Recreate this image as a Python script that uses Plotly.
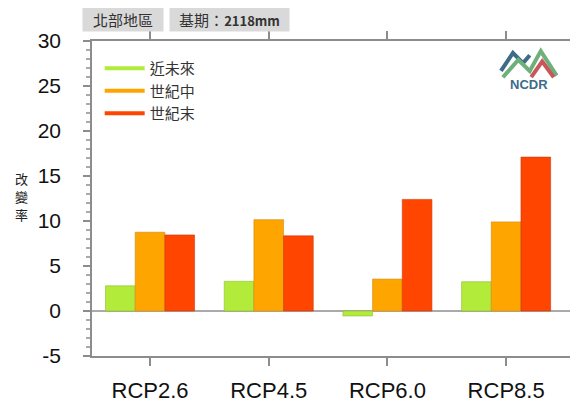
import plotly.graph_objects as go

# ── Data ──────────────────────────────────────────────────────────────────
SCENARIOS = ["RCP2.6", "RCP4.5", "RCP6.0", "RCP8.5"]
NEAR_TERM = [2.8, 3.3, -0.55, 3.25]      # 近未來
MID_CENTURY = [8.75, 10.15, 3.55, 9.9]   # 世紀中
END_CENTURY = [8.45, 8.35, 12.4, 17.1]   # 世紀末
SERIES_NAMES = ["近未來", "世紀中", "世紀末"]
Y_TICKS = [-5, 0, 5, 10, 15, 20, 25, 30]
Y_TICK_TEXT = ["-5", "0", "5", "10", "15", "20", "25", "30"]

COLOURS = ["#B3EB3A", "#FFA500", "#FF4500"]
OUTLINES = ["#8FB830", "#D08A10", "#C83A10"]
AXIS_COLOUR = "#8C8C8C"
LATIN = "Liberation Sans, Arial, sans-serif"
CJK = "Noto Sans CJK TC, sans-serif"

# the page body keeps its default 8px margin, so the figure is 8px smaller
W, H = 570, 394

fig = go.Figure()

for name, vals, col, edge in zip(SERIES_NAMES, [NEAR_TERM, MID_CENTURY, END_CENTURY], COLOURS, OUTLINES):
    fig.add_trace(go.Bar(
        x=SCENARIOS, y=vals, name=name, showlegend=False,
        marker=dict(color=col, line=dict(color=edge, width=0.6)),
    ))
    # line-style legend entries
    fig.add_trace(go.Scatter(
        x=[None], y=[None], mode="lines", name=name,
        line=dict(color=col, width=4),
    ))

fig.update_layout(
    width=W, height=H,
    paper_bgcolor="white", plot_bgcolor="white",
    margin=dict(l=84, r=6, t=33, b=46, autoexpand=False),
    barmode="group", bargap=0.25, bargroupgap=0,
    font=dict(family=LATIN, color="#222222"),
    showlegend=True,
    legend=dict(
        x=0.016, y=0.965, xanchor="left", yanchor="top",
        bgcolor="rgba(0,0,0,0)", font=dict(family=CJK, size=15, color="#333333"),
        itemwidth=40, tracegroupgap=0,
    ),
    xaxis=dict(
        range=[-0.489, 3.555], showline=True, linecolor=AXIS_COLOUR, linewidth=1.5,
        mirror="ticks", ticks="outside", ticklen=8, tickcolor=AXIS_COLOUR, tickwidth=1.5,
        tickfont=dict(size=22, family=LATIN, color="#111111"), showgrid=False,
        ticklabelstandoff=6,
    ),
    yaxis=dict(
        range=[-5, 30], tickvals=Y_TICKS, ticktext=Y_TICK_TEXT,
        showline=True, linecolor=AXIS_COLOUR, linewidth=1.5,
        mirror="ticks", ticks="outside", ticklen=7, tickcolor=AXIS_COLOUR, tickwidth=1.5,
        minor=dict(dtick=1, ticks="outside", ticklen=4, tickcolor="#AAAAAA"),
        tickfont=dict(size=21, family=LATIN, color="#111111"), showgrid=False,
        ticklabelstandoff=18,
        zeroline=True, zerolinecolor="#AAAAAA", zerolinewidth=1.5,
    ),
)

# y-axis title: vertical stacked characters
for ch, yy in zip("改變率", [0.562, 0.505, 0.448]):
    fig.add_annotation(
        text=ch, xref="paper", yref="paper", x=-0.146, y=yy,
        showarrow=False, font=dict(family=CJK, size=13, color="#222222"),
        xanchor="center", yanchor="middle", borderpad=0,
    )

# header boxes
fig.add_annotation(
    text="北部地區", xref="paper", yref="paper", x=-0.0208, y=1.0286,
    xanchor="left", yanchor="bottom", showarrow=False,
    font=dict(family=CJK, size=15, color="#333333"),
    bgcolor="#D9D9D9", borderpad=0, width=80, height=24,
)
fig.add_annotation(
    text="基期：<span style='font-size:13px'><b>2118mm</b></span>",
    xref="paper", yref="paper", x=0.1604, y=1.0286,
    xanchor="left", yanchor="bottom", showarrow=False,
    font=dict(family=CJK, size=15, color="#333333"),
    bgcolor="#D9D9D9", borderpad=0, width=119, height=24,
)

# NCDR logo (approximate, drawn with shapes)
fig.add_shape(type="path", xref="paper", yref="paper",
              path="M 0.852 0.905 L 0.877 0.962 L 0.898 0.93 L 0.912 0.955",
              line=dict(color="#3D6C88", width=4))
fig.add_shape(type="path", xref="paper", yref="paper",
              path="M 0.856 0.885 L 0.888 0.94 L 0.912 0.905 L 0.935 0.968 L 0.968 0.89",
              line=dict(color="#6DB07A", width=4))
fig.add_shape(type="path", xref="paper", yref="paper",
              path="M 0.915 0.885 L 0.938 0.935 L 0.962 0.885",
              line=dict(color="#C8565A", width=4))
fig.add_annotation(
    text="<b>NCDR</b>", xref="paper", yref="paper", x=0.91, y=0.862,
    xanchor="center", yanchor="middle", showarrow=False,
    font=dict(family=LATIN, size=13, color="#3D6C88"),
)

fig.write_html("out.html")
